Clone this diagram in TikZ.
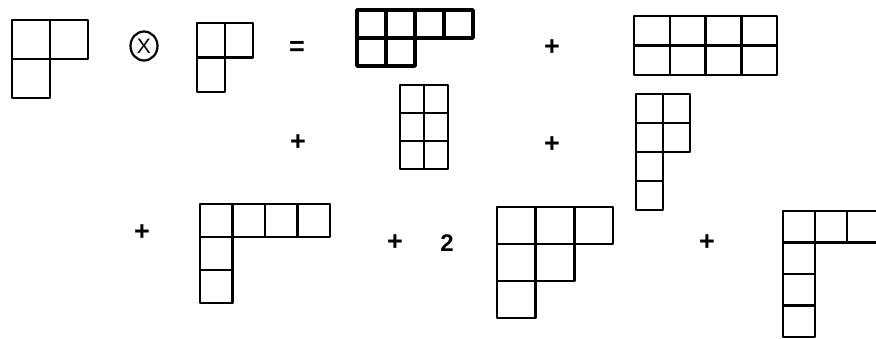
\documentclass[tikz,border=0pt]{standalone}
\usepackage{fontspec}
\setmainfont{Liberation Sans}
\tikzset{
  yd/.style={line width=2.5pt, line cap=round, line join=round, black},
  ydthick/.style={line width=3.4pt, line cap=round, line join=round, black},
  sym/.style={inner sep=0pt, font=\fontsize{27}{30}\selectfont\bfseries},
  tensor/.style={ellipse, draw, line width=2.2pt, minimum width=27pt, minimum height=29pt, inner sep=0pt, font=\fontsize{21}{22}\selectfont}
}
% #1 style, #2 x, #3 y (top-left, px down), #4 cell w, #5 cell h, #6 row lengths
\newcommand{\ydiag}[6]{%
  \foreach \len [count=\r from 0] in {#6} {
    \foreach \c in {1,...,\len} {
      \draw[#1] ({#2+(\c-1)*#4},{-(#3)-\r*#5}) rectangle ++(#4,-#5);
    }
  }%
}
\usetikzlibrary{shapes.geometric}
\begin{document}
\begin{tikzpicture}[x=1pt,y=1pt]
\useasboundingbox (0,0) rectangle (876,-338);
\clip (0,0) rectangle (876,-338);
% first line
\ydiag{yd}{12}{20}{38}{39}{2,1}
\node[tensor] (otimes) at (144,-46) {X};
\ydiag{yd}{197}{23}{28}{34.5}{2,1}
\node[sym] (eq) at (297,-48) {=};
\ydiag{ydthick}{357}{10}{29}{28}{4,2}
\node[sym] (p1) at (552,-48) {+};
\ydiag{yd}{634}{16}{35.75}{29.5}{4,4}
% second line
\node[sym] (p2) at (298,-143) {+};
\ydiag{yd}{400}{85}{24}{28}{2,2,2}
\node[sym] (p3) at (552,-145) {+};
\ydiag{yd}{636}{94}{27}{29}{2,2,1,1}
% third line
\node[sym] (p4) at (142,-233) {+};
\ydiag{yd}{200}{204}{32.5}{33}{4,1,1}
\node[sym] (p5) at (395,-243) {+};
\node[sym, font=\fontsize{24}{26}\selectfont\bfseries] (two) at (447,-243) {2};
\ydiag{yd}{497}{207}{38.7}{37}{3,2,1}
\node[sym] (p6) at (707,-243) {+};
\ydiag{yd}{783}{211}{32}{31.5}{3,1,1,1}
\end{tikzpicture}
\end{document}
